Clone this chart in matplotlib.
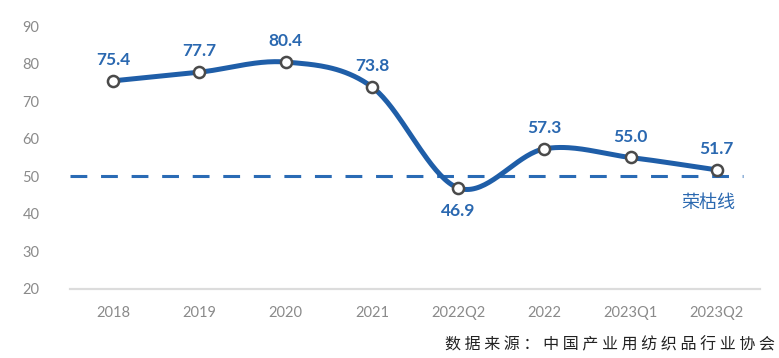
import numpy as np
import matplotlib
matplotlib.use("Agg")
import matplotlib.pyplot as plt

plt.rcParams['font.family'] = ['Lato', 'Noto Sans CJK SC', 'DejaVu Sans']

categories = ["2018", "2019", "2020", "2021", "2022Q2", "2022", "2023Q1", "2023Q2"]
values = [75.4, 77.7, 80.4, 73.8, 46.9, 57.3, 55.0, 51.7]
threshold = 50
threshold_label = "荣枯线"
source_text = "数据来源：中国产业用纺织品行业协会"

line_color = "#1f5ea8"
label_color = "#2a68b0"


def catmull_rom(x, y, n=40):
    """Smooth path through the points (Catmull-Rom, like spreadsheet smoothing)."""
    x = np.asarray(x, float)
    y = np.asarray(y, float)
    px = np.concatenate([[2 * x[0] - x[1]], x, [2 * x[-1] - x[-2]]])
    py = np.concatenate([[2 * y[0] - y[1]], y, [2 * y[-1] - y[-2]]])
    xs, ys = [], []
    t = np.linspace(0, 1, n)
    for i in range(1, len(px) - 2):
        for p, out in ((px, xs), (py, ys)):
            p0, p1, p2, p3 = p[i - 1], p[i], p[i + 1], p[i + 2]
            out.append(0.5 * ((2 * p1) + (-p0 + p2) * t
                              + (2 * p0 - 5 * p1 + 4 * p2 - p3) * t ** 2
                              + (-p0 + 3 * p1 - 3 * p2 + p3) * t ** 3))
    return np.concatenate(xs), np.concatenate(ys)


fig = plt.figure(figsize=(7.79, 3.58), dpi=100)
ax = fig.add_axes([70 / 779, 69 / 358, 690 / 779, 263 / 358])

xpos = np.arange(len(categories))
sx, sy = catmull_rom(xpos, values)

# threshold line
ax.plot([-0.5, 7.3], [threshold, threshold], color="#2a6bb5", lw=2.2,
        dashes=(5.5, 4.5), zorder=2)
ax.text(6.9, 42.9, threshold_label, color=label_color, fontsize=13,
        ha="center", va="center", family=['Noto Sans CJK SC'])

# smoothed series and markers
ax.plot(sx, sy, color=line_color, lw=3.6, solid_capstyle="round", zorder=3)
ax.plot(xpos, values, "o", ms=8, mfc="white", mec="#4a4a4a", mew=1.8, zorder=4)

for xi, v in zip(xpos, values):
    if v < threshold:
        ax.text(xi, v - 4.0, f"{v:.1f}", color=label_color, fontsize=12.5,
                fontweight="bold", ha="center", va="top")
    else:
        ax.text(xi, v + 3.4, f"{v:.1f}", color=label_color, fontsize=12.5,
                fontweight="bold", ha="center", va="bottom")

ax.set_xlim(-0.5, 7.5)
ax.set_ylim(20, 90)
ax.set_yticks(range(20, 91, 10))
ax.set_xticks(xpos)
ax.set_xticklabels(categories)
ax.tick_params(axis="both", length=0, colors="#8a8a8a", labelsize=10.5)
ax.tick_params(axis="y", pad=22)
ax.tick_params(axis="x", pad=12)

for side in ("top", "right", "left"):
    ax.spines[side].set_visible(False)
ax.spines["bottom"].set_color("#dcdcdc")
ax.spines["bottom"].set_linewidth(1.6)

# source note, letter-spaced
fig.text(775 / 779, 1 - 345 / 358, " ".join(source_text), ha="right", va="center",
         fontsize=11.5, color="#222222", family=['Noto Sans CJK SC'])

fig.savefig("out.png", dpi=100, facecolor="white")
